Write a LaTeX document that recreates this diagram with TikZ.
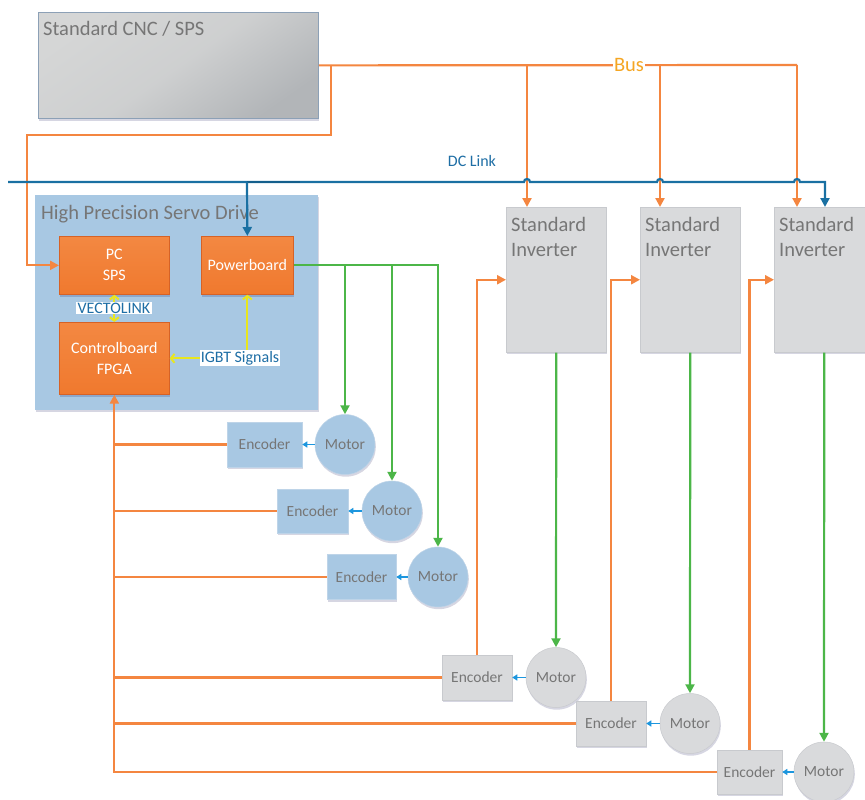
\documentclass[tikz,border=0pt]{standalone}
\usepackage{fontspec}
\setmainfont{Carlito}
\usetikzlibrary{arrows.meta,shadows,calc}

\definecolor{txtgray}{RGB}{118,118,118}
\definecolor{cncA}{RGB}{213,214,214}
\definecolor{cncB}{RGB}{178,181,184}
\definecolor{cncborder}{RGB}{140,160,182}
\definecolor{drvblue}{RGB}{168,200,227}
\definecolor{drvborder}{RGB}{190,212,232}
\definecolor{orfill}{RGB}{240,121,46}
\definecolor{orfillA}{RGB}{243,136,66}
\definecolor{orborder}{RGB}{214,98,38}
\definecolor{orline}{RGB}{244,134,64}
\definecolor{busyellow}{RGB}{245,166,35}
\definecolor{dcblue}{RGB}{26,112,162}
\definecolor{dcdark}{RGB}{20,95,140}
\definecolor{lblblue}{RGB}{30,110,165}
\definecolor{grline}{RGB}{76,182,72}
\definecolor{yline}{RGB}{232,230,30}
\definecolor{encarrow}{RGB}{28,150,222}
\definecolor{invfill}{RGB}{217,218,220}
\definecolor{invborder}{RGB}{200,202,206}

\tikzset{
  softshadow/.style={drop shadow={opacity=0.16, fill=black!70!blue, shadow xshift=0.8pt, shadow yshift=-2.2pt}},
  cncbox/.style={draw=cncborder, line width=0.8pt, top color=cncA, bottom color=cncB, middle color=cncA!80!cncB,
    shading angle=35, softshadow, inner sep=0pt},
  drivebox/.style={fill=drvblue, draw=none, softshadow, inner sep=0pt},
  orbox/.style={top color=orfillA, bottom color=orfill, draw=orborder, line width=0.7pt, text=white, align=center,
    font=\fontsize{16}{21}\selectfont, softshadow, inner sep=0pt},
  invbox/.style={fill=invfill, draw=invborder, line width=0.5pt, softshadow, inner sep=0pt},
  bluebox/.style={fill=drvblue, draw=drvborder, line width=0.5pt, softshadow, inner sep=0pt, text=txtgray,
    font=\fontsize{15.5}{18}\selectfont},
  graybox/.style={fill=invfill, draw=invborder, line width=0.5pt, softshadow, inner sep=0pt, text=txtgray,
    font=\fontsize{15.5}{18}\selectfont},
  bluemotor/.style={circle, minimum size=60pt, bluebox},
  graymotor/.style={circle, minimum size=60pt, graybox},
  titletext/.style={text=txtgray, inner sep=0pt, font=\fontsize{20.5}{25}\selectfont},
  oline/.style={draw=orline, line width=2.2pt},
  otip/.style={-{Triangle[length=9pt,width=9pt]}},
  bline/.style={draw=dcblue, line width=2.2pt},
  gline/.style={draw=grline, line width=2.2pt, -{Triangle[length=9pt,width=9pt]}},
  ysig/.style={draw=yline, line width=2pt, {Straight Barb[length=3.5pt,width=9pt]}-{Straight Barb[length=3.5pt,width=9pt]}},
  encline/.style={draw=encarrow, line width=1.3pt, -{Triangle[length=5pt,width=6pt]}},
  siglabel/.style={fill=white, text=lblblue, inner sep=1.2pt, font=\fontsize{16}{18}\selectfont},
}

\begin{document}
\begin{tikzpicture}[x=1pt,y=-1pt]
\useasboundingbox (0,0) rectangle (865,800);
\clip (0,0) rectangle (865,800);
\fill[white] (0,0) rectangle (865,800);

% ---- controller and drive blocks
\node[cncbox, minimum width=280pt, minimum height=106pt, anchor=north west] (cnc) at (38,12) {};
\node[titletext, anchor=base west] (cnct) at (43,36) {Standard CNC / SPS};

\node[drivebox, minimum width=283pt, minimum height=215pt, anchor=north west] (drive) at (35,195) {};
\node[titletext, anchor=base west] (drivet) at (41,219) {High Precision Servo Drive};

\node[orbox, minimum width=110pt, minimum height=58pt, anchor=north west] (pcsps) at (59,236) {PC\\SPS};
\node[orbox, minimum width=92pt, minimum height=58pt, anchor=north west] (power) at (201,236) {Powerboard};
\node[orbox, minimum width=110pt, minimum height=72pt, anchor=north west] (ctrl) at (59,322) {Controlboard\\FPGA};

% ---- standard inverters
\foreach \i/\x in {1/506, 2/640, 3/774}{
  \node[invbox, minimum width=100pt, minimum height=145pt, anchor=north west] (inv\i) at (\x,207) {};
  \node[titletext, anchor=north west, align=left] (inv\i t) at ($(inv\i.north west)+(5,10)$) {Standard\\Inverter};
}

% ---- motors and encoders of the servo drive
\node[bluemotor] (m1) at (345,444.5) {Motor};
\node[bluebox, minimum width=75pt, minimum height=45pt] (e1) at (264.5,444.5) {Encoder};
\node[bluemotor] (m2) at (392,511) {Motor};
\node[bluebox, minimum width=71pt, minimum height=44pt] (e2) at (312.5,511) {Encoder};
\node[bluemotor] (m3) at (438,577) {Motor};
\node[bluebox, minimum width=69pt, minimum height=45pt] (e3) at (361.5,577) {Encoder};

% ---- motors and encoders of the standard inverters
\node[graymotor] (m4) at (556,677.5) {Motor};
\node[graybox, minimum width=70pt, minimum height=45pt] (e4) at (477,677.5) {Encoder};
\node[graymotor] (m5) at (690,723.5) {Motor};
\node[graybox, minimum width=70pt, minimum height=45pt] (e5) at (611,723.5) {Encoder};
\node[graymotor] (m6) at (824,772) {Motor};
\node[graybox, minimum width=65pt, minimum height=44pt] (e6) at (749.5,772) {Encoder};

% ---- field bus
\coordinate (bus1) at (527,65);
\coordinate (bus2) at (660,65);
\coordinate (bus3) at (797,65);
\coordinate (busL) at (331,65);
\coordinate (busLd) at (331,135);
\coordinate (busLl) at (27,135);
\draw[oline] (cnc.east) -- (bus3);
\draw[oline, otip] (bus1) -- (bus1 |- inv1.north);
\draw[oline, otip] (bus2) -- (bus2 |- inv2.north);
\draw[oline, otip] (bus3) -- (bus3 |- inv3.north);
\draw[oline, otip] (busL) -- (busLd) -- (busLl) |- (pcsps.west);
\node[fill=white, text=busyellow, inner sep=1pt, font=\fontsize{20.5}{22}\selectfont] (bus) at (629,65) {Bus};

% ---- DC link with hops over the bus drops
\coordinate (dcL) at (8,182);
\coordinate (dcR) at (825,182);
\coordinate (dcP) at (247,182);
\draw[bline, -{Triangle[length=9pt,width=9pt]}]
  (dcL) -- (524,182) arc[start angle=180, end angle=0, radius=3pt]
  -- (657,182) arc[start angle=180, end angle=0, radius=3pt]
  -- (794,182) arc[start angle=180, end angle=0, radius=3pt]
  -- (dcR) -- (dcR |- inv3.north);
\draw[draw=dcdark, line width=2.4pt] (dcP) -- (300,182);
\draw[bline, -{Triangle[length=9pt,width=9pt]}] (dcP) -- (power.north);
\node[text=lblblue, inner sep=0pt, font=\fontsize{16}{18}\selectfont] (dclabel) at (472,161) {DC Link};

% ---- internal signals of the servo drive
\draw[ysig] (pcsps.south) -- (ctrl.north);
\node[siglabel] (vecto) at (114,308) {VECTOLINK};
\draw[ysig] (ctrl.east) -| (power.south);
\node[siglabel] (igbt) at (240,358) {IGBT Signals};

% ---- motor power lines
\coordinate (g1) at (345,265);
\coordinate (g2) at (392,265);
\draw[gline] (power.east) -| (m3.north);
\draw[gline] (g1) -- (m1.north);
\draw[gline] (g2) -- (m2.north);
\draw[gline] (inv1.south) -- (m4.north);
\draw[gline] (inv2.south) -- (m5.north);
\draw[gline] (inv3.south) -- (m6.north);

% ---- motor to encoder
\foreach \i in {1,...,6}{
  \draw[encline] (m\i.west) -- (e\i.east);
}

% ---- encoder feedback to the inverters
\draw[oline, otip] (e4.north) |- (inv1.west);
\draw[oline, otip] (e5.north) |- (inv2.west);
\draw[oline, otip] (e6.north) |- (inv3.west);

% ---- encoder feedback to the controlboard
\draw[oline, otip] (e6.west) -| (ctrl.south);
\foreach \i in {1,...,5}{
  \draw[oline] (e\i.west) -- (e\i.west -| ctrl.south);
}
\end{tikzpicture}
\end{document}
